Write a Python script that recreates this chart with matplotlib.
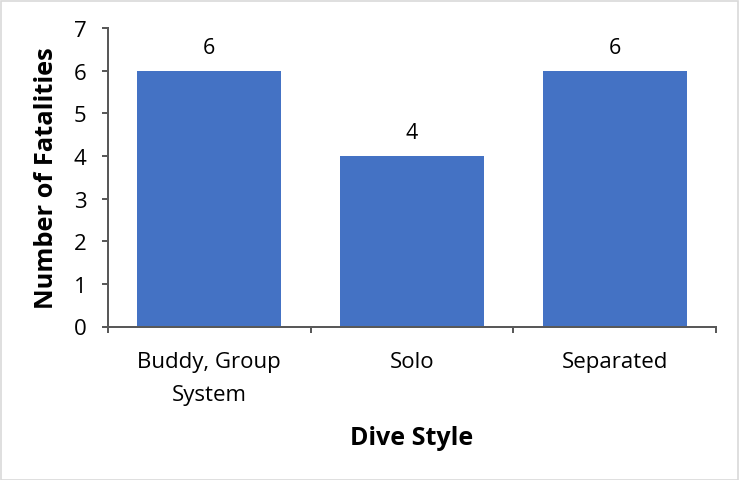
import matplotlib
matplotlib.use("Agg")
import matplotlib.pyplot as plt
from matplotlib.patches import Rectangle

categories = ["Buddy, Group\nSystem", "Solo", "Separated"]
fatalities = [6, 4, 6]
y_ticks = [0, 1, 2, 3, 4, 5, 6, 7]

plt.rcParams['font.family'] = ['Open Sans', 'DejaVu Sans']

W, H = 739, 481
PX = 0.72  # points per pixel at dpi 100
fig = plt.figure(figsize=(W / 100, H / 100), dpi=100)
ax = fig.add_axes([108 / W, 1 - 327.5 / H, (716 - 108) / W, (327.5 - 29) / H])

x = list(range(len(categories)))
ax.bar(x, fatalities, width=0.71, color="#4472C4", zorder=2)
for xi, v in zip(x, fatalities):
    ax.annotate(str(v), (xi, v), xytext=(0, 9), textcoords="offset points",
                ha="center", va="bottom", fontsize=15.5, color="#000000")

ax.set_xlim(-0.5, len(categories) - 0.5)
ax.set_ylim(0, 7)
ax.set_yticks(y_ticks)
ax.set_yticklabels([str(t) for t in y_ticks], fontsize=16)
ax.set_xticks(x)
ax.set_xticklabels(categories, fontsize=16, linespacing=1.75)
ax.tick_params(axis="x", length=0, pad=18)
ax.tick_params(axis="y", length=6 * PX, width=2 * PX, color="#595959", pad=11)
ax.set_xticks([-0.5, 0.5, 1.5, 2.5], minor=True)
ax.tick_params(axis="x", which="minor", length=6 * PX, width=2 * PX, color="#595959")

for s in ["top", "right"]:
    ax.spines[s].set_visible(False)
for s in ["left", "bottom"]:
    ax.spines[s].set_color("#595959")
    ax.spines[s].set_linewidth(2 * PX)

ax.set_ylabel("Number of Fatalities", fontsize=18.3, fontweight="bold")
ax.yaxis.set_label_coords(-0.08, 0.5)
ax.set_xlabel("Dive Style", fontsize=18, fontweight="bold", labelpad=14)

fig.patches.append(Rectangle((0.5 / W, 0.5 / H), 1 - 1.5 / W, 1 - 2.5 / H,
                             transform=fig.transFigure, fill=False,
                             edgecolor="#D9D9D9", linewidth=1.2))

fig.savefig("out.png", dpi=100)
